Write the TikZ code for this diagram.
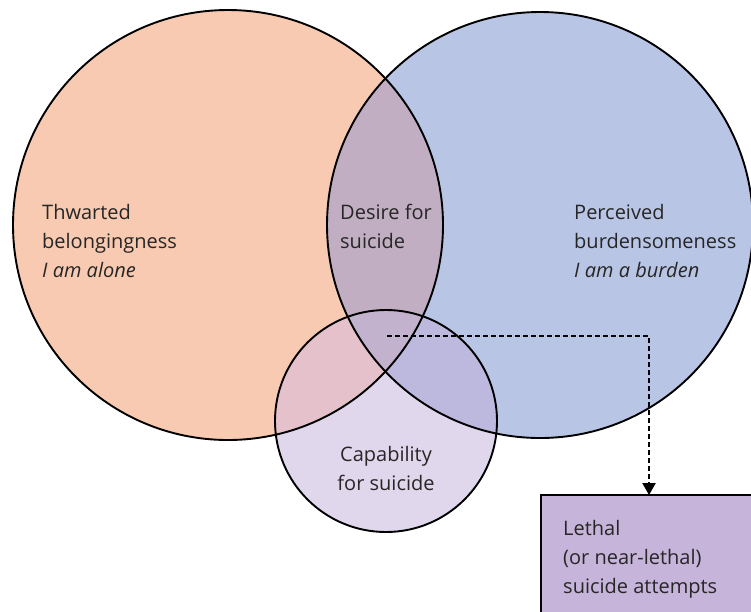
\documentclass[tikz,border=0pt]{standalone}
\usepackage{fontspec}
\setmainfont{Open Sans}
\usetikzlibrary{arrows.meta,positioning}

\definecolor{peach}{HTML}{F8CAB1}
\definecolor{bluish}{HTML}{B9C5E4}
\definecolor{lilac}{HTML}{E1D7EC}
\definecolor{mauve}{HTML}{C1AEC3}
\definecolor{pinkish}{HTML}{E5C1CB}
\definecolor{bluelilac}{HTML}{BDB8DD}
\definecolor{triple}{HTML}{C3B2CD}
\definecolor{boxfill}{HTML}{C7B4DA}

\tikzset{
  venn/.style={draw=black, line width=1.9pt},
  vtext/.style={inner sep=0pt, align=left, text=black!85,
    font=\fontsize{20}{29}\selectfont},
  lethalbox/.style={fill=boxfill, inner sep=0pt},
  flow/.style={dashed, dash pattern=on 5pt off 3pt, line width=2.2pt,
    -{Triangle[length=12pt,width=13pt]}}
}

\begin{document}
\begin{tikzpicture}[x=1pt,y=-1pt]
		\useasboundingbox (0,0) rectangle (751,611);
		\clip (0,0) rectangle (751,611);
		
		%%%%% circles %%%%%
		\coordinate (lc) at (228,225);
		\coordinate (rc) at (540,225);
		\coordinate (sc) at (386,421);
		
		\fill[peach] (lc) circle (215pt);
		\fill[bluish] (rc) circle (213pt);
		\fill[lilac] (sc) circle (111pt);
		\begin{scope}
			\clip (lc) circle (215pt);
			\fill[mauve] (rc) circle (213pt);
			\fill[pinkish] (sc) circle (111pt);
		\end{scope}
		\begin{scope}
			\clip (rc) circle (213pt);
			\fill[bluelilac] (sc) circle (111pt);
			\clip (lc) circle (215pt);
			\fill[triple] (sc) circle (111pt);
		\end{scope}
		\draw[venn] (lc) circle (215pt);
		\draw[venn] (rc) circle (213pt);
		\draw[venn] (sc) circle (111pt);
		
		%%%%% texts %%%%%
		\node[vtext, anchor=north west] (thwarted) at (42,204)
			{Thwarted\\belongingness\\\textit{I am alone}};
		\node[vtext, anchor=north west] (desire) at (340,204)
			{Desire for\\suicide};
		\node[vtext, anchor=north west] (perceived) at (574,204)
			{Perceived\\burdensomeness\\\textit{I am a burden}};
		\node[vtext, align=center, anchor=north] (capability) at (386,446)
			{Capability\\for suicide};
		
		%%%%% outcome %%%%%
		\node[lethalbox, minimum width=260pt, minimum height=150pt,
			anchor=north west] (lethal) at (541,495) {};
		\draw[line width=2pt] (lethal.south west) -- (lethal.north west)
			-- (lethal.north east);
		\node[vtext, anchor=north west] (lethaltxt) at (563,520)
			{Lethal\\(or near-lethal)\\suicide attempts};
		
		\coordinate (src) at (387,336);
		\coordinate (tip) at (649,495);
		\draw[flow] (src) -| (tip);
		
\end{tikzpicture}
\end{document}
